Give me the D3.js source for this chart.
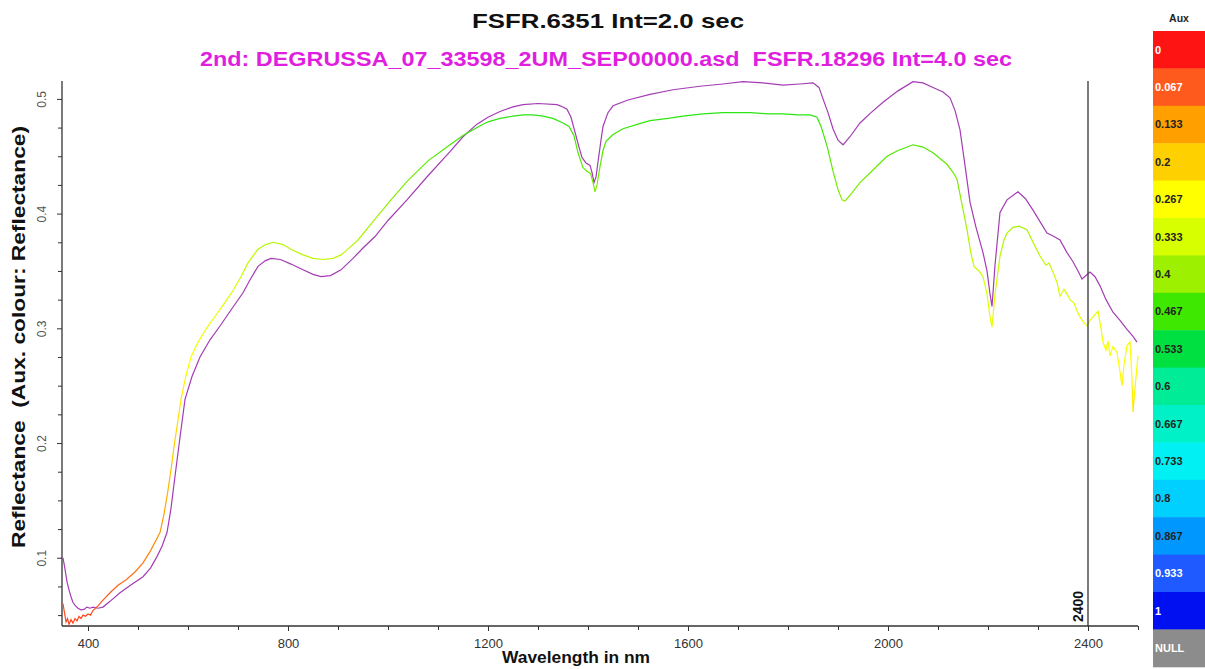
<!DOCTYPE html>
<html>
<head>
<meta charset="utf-8">
<script src="https://cdn.jsdelivr.net/npm/d3@7"></script>
<style>
  html, body { margin: 0; padding: 0; background: #fff; }
  svg { display: block; font-family: "Liberation Sans", Arial, sans-serif; }
  .keep-space { white-space: pre; }
</style>
</head>
<body>
<svg id="chart" width="1205" height="669"></svg>
<script>
// Spectrum 1 (FSFR.6351), coloured by its own reflectance
const wavelengthA = [350,353,356,359,362,366,370,374,378,382,386,390,395,400,405,410,420,430,444,460,477,495,510,525,544,552,560,567,573,580,586,596,606,620,640,660,673,690,706,720,740,755,770,790,806,830,850,870,890,906,920,940,970,1006,1040,1080,1124,1150,1178,1200,1224,1250,1270,1290,1310,1330,1350,1362,1372,1380,1390,1398,1405,1410,1414,1418,1424,1430,1436,1450,1470,1500,1524,1560,1590,1630,1670,1700,1724,1760,1790,1820,1844,1858,1866,1878,1890,1900,1908,1914,1924,1944,1970,1998,2020,2050,2070,2090,2104,2118,2130,2138,2148,2158,2166,2172,2182,2190,2198,2204,2208,2214,2224,2232,2238,2250,2262,2278,2290,2304,2316,2322,2330,2338,2344,2352,2358,2364,2372,2378,2384,2390,2398,2404,2410,2420,2426,2430,2436,2440,2444,2450,2458,2464,2468,2472,2478,2484,2488,2490,2494,2500];
const reflectanceA = [0.060,0.052,0.044,0.047,0.042,0.046,0.043,0.047,0.045,0.049,0.047,0.050,0.049,0.051,0.050,0.054,0.058,0.063,0.0695,0.076,0.081,0.088,0.0956,0.106,0.122,0.138,0.159,0.180,0.200,0.220,0.238,0.259,0.275,0.288,0.302,0.314,0.322,0.333,0.345,0.357,0.369,0.373,0.375,0.373,0.369,0.364,0.361,0.360,0.361,0.364,0.369,0.377,0.393,0.412,0.429,0.446,0.460,0.468,0.475,0.480,0.483,0.485,0.486,0.486,0.485,0.483,0.479,0.476,0.468,0.453,0.440,0.437,0.435,0.427,0.419,0.425,0.441,0.455,0.463,0.469,0.474,0.478,0.481,0.483,0.485,0.487,0.488,0.488,0.488,0.487,0.487,0.486,0.486,0.484,0.476,0.459,0.437,0.421,0.412,0.411,0.416,0.427,0.438,0.450,0.455,0.460,0.458,0.453,0.448,0.443,0.436,0.430,0.408,0.386,0.365,0.354,0.350,0.345,0.330,0.310,0.301,0.330,0.363,0.377,0.383,0.388,0.389,0.386,0.375,0.363,0.355,0.357,0.349,0.340,0.328,0.334,0.330,0.325,0.322,0.315,0.310,0.306,0.302,0.307,0.310,0.315,0.300,0.288,0.281,0.289,0.276,0.284,0.279,0.262,0.250,0.268,0.285,0.288,0.255,0.227,0.248,0.276];

// Spectrum 2 (DEGRUSSA_07_33598_2UM_SEP00000.asd, FSFR.18296)
const wavelengthB = [350,354,358,362,366,370,375,380,386,392,398,404,410,420,430,444,464,485,510,525,538,548,558,566,574,584,594,608,624,644,664,686,710,725,740,755,766,785,806,830,850,866,885,906,930,950,974,1000,1038,1080,1124,1150,1178,1200,1224,1250,1270,1300,1338,1350,1358,1366,1374,1382,1388,1396,1404,1408,1412,1416,1420,1426,1430,1440,1450,1480,1524,1570,1624,1670,1710,1750,1790,1824,1850,1862,1870,1880,1890,1900,1910,1924,1944,1966,1990,2020,2050,2070,2090,2110,2124,2134,2144,2154,2164,2176,2190,2198,2204,2208,2214,2224,2238,2260,2275,2290,2304,2318,2332,2344,2358,2370,2380,2388,2396,2404,2414,2424,2436,2450,2464,2478,2490,2498];
const reflectanceB = [0.100,0.090,0.079,0.072,0.066,0.061,0.058,0.056,0.0546,0.055,0.057,0.056,0.057,0.056,0.057,0.062,0.0695,0.076,0.0835,0.091,0.101,0.110,0.122,0.143,0.171,0.205,0.238,0.258,0.275,0.290,0.302,0.316,0.331,0.343,0.354,0.359,0.361,0.360,0.356,0.351,0.347,0.345,0.346,0.351,0.361,0.370,0.380,0.394,0.412,0.433,0.454,0.467,0.478,0.484,0.489,0.493,0.495,0.496,0.495,0.493,0.491,0.484,0.471,0.458,0.449,0.444,0.442,0.436,0.427,0.432,0.445,0.464,0.476,0.488,0.494,0.499,0.504,0.508,0.511,0.513,0.515,0.514,0.512,0.513,0.514,0.510,0.500,0.488,0.474,0.464,0.460,0.467,0.479,0.488,0.497,0.507,0.515,0.514,0.510,0.506,0.501,0.490,0.473,0.442,0.410,0.388,0.366,0.350,0.330,0.319,0.355,0.401,0.412,0.419,0.413,0.403,0.393,0.383,0.380,0.377,0.366,0.358,0.350,0.343,0.346,0.349,0.345,0.337,0.325,0.314,0.307,0.299,0.293,0.288];

// Aux colour key
const auxLabels = ["0","0.067","0.133","0.2","0.267","0.333","0.4","0.467","0.533","0.6","0.667","0.733","0.8","0.867","0.933","1"];
const auxValues = [0,0.067,0.133,0.2,0.267,0.333,0.4,0.467,0.533,0.6,0.667,0.733,0.8,0.867,0.933,1];
const auxColors = ["#ff1414","#ff5a1e","#ffa000","#ffd000","#ffff00","#d8ff00","#9cf000","#3ee800","#00e040","#00ec96","#00f0c8","#00f0f4","#00d0ff","#0098ff","#1e5aff","#0010f0"];
const auxTextColors = ["#fff","#fff","#222","#222","#222","#222","#222","#222","#222","#222","#222","#222","#222","#222","#fff","#fff"];
const nullLabel = "NULL";
const nullColor = "#8c8c8c";

const xTickValues = [400, 800, 1200, 1600, 2000, 2400];
const yTickValues = [0.1, 0.2, 0.3, 0.4, 0.5];
const markerWavelength = 2400;

const titleMain = "FSFR.6351 Int=2.0 sec";
const titleSecond = "2nd: DEGRUSSA_07_33598_2UM_SEP00000.asd  FSFR.18296 Int=4.0 sec";
const xLabel = "Wavelength in nm";
const yLabel = "Reflectance  (Aux. colour: Reflectance)";

const svg = d3.select("#chart");
const plot = { left: 62, right: 1138, top: 81, bottom: 626 };

const x = d3.scaleLinear().domain([350, 2500]).range([plot.left + 1, plot.right]);
const y = d3.scaleLinear().domain([0.0405, 0.5156]).range([plot.bottom, plot.top]);

// Titles
svg.append("text").attr("class", "keep-space").attr("x", 608).attr("y", 28).attr("text-anchor", "middle")
  .attr("font-size", 21).attr("font-weight", "bold").attr("fill", "#111")
  .attr("textLength", 272).attr("lengthAdjust", "spacingAndGlyphs").text(titleMain);
svg.append("text").attr("class", "keep-space").attr("x", 606).attr("y", 66).attr("text-anchor", "middle")
  .attr("font-size", 21).attr("font-weight", "bold").attr("fill", "#e01ee0")
  .attr("textLength", 812).attr("lengthAdjust", "spacingAndGlyphs").text(titleSecond);

// Gradient: curve colour follows reflectance, so a vertical gradient in user space maps value to colour
const defs = svg.append("defs");
const grad = defs.append("linearGradient").attr("id", "auxGrad")
  .attr("gradientUnits", "userSpaceOnUse")
  .attr("x1", 0).attr("x2", 0).attr("y1", y(0)).attr("y2", y(1));
auxValues.forEach((v, i) => grad.append("stop").attr("offset", v).attr("stop-color", auxColors[i]));

defs.append("clipPath").attr("id", "plotClip").append("rect")
  .attr("x", plot.left).attr("y", plot.top - 2).attr("width", plot.right - plot.left + 2).attr("height", plot.bottom - plot.top + 2);

// Axes
const xAxis = d3.axisBottom(x).tickValues(xTickValues).tickSize(5).tickFormat(d3.format("d"));
const xMinor = d3.axisBottom(x).tickValues(d3.range(500, 2501, 100).filter(v => v % 400 !== 0)).tickSize(4).tickFormat("");
const gx = svg.append("g").attr("transform", `translate(0,${plot.bottom})`).call(xAxis);
svg.append("g").attr("transform", `translate(0,${plot.bottom})`).call(xMinor).select(".domain").remove();
gx.select(".domain").attr("d", `M${plot.left},0H${plot.right}`).attr("stroke", "#333").attr("stroke-width", 1.3);
gx.selectAll(".tick text").attr("font-size", 13).attr("fill", "#333").attr("dy", "1.05em")
  .attr("font-family", "Liberation Sans, Arial, sans-serif");

const yAxis = d3.axisLeft(y).tickValues(yTickValues).tickSize(5).tickFormat(d3.format(".1f"));
const yMinor = d3.axisLeft(y).tickValues(d3.range(0.05, 0.51, 0.025).filter(v => Math.abs(v * 10 - Math.round(v * 10)) > 0.01)).tickSize(4).tickFormat("");
const gy = svg.append("g").attr("transform", `translate(${plot.left},0)`).call(yAxis);
svg.append("g").attr("transform", `translate(${plot.left},0)`).call(yMinor).select(".domain").remove();
gy.select(".domain").attr("d", `M0,${plot.top}V${plot.bottom}`).attr("stroke", "#333").attr("stroke-width", 1.3);
gy.selectAll(".tick text").attr("font-size", 12).attr("fill", "#555")
  .attr("font-family", "Liberation Sans, Arial, sans-serif")
  .attr("x", null).attr("dy", null)
  .attr("transform", "translate(-19,0) rotate(-90)")
  .attr("text-anchor", "middle").attr("dominant-baseline", "middle");
svg.selectAll(".tick line").attr("stroke", "#333");

// Axis titles
svg.append("text").attr("x", 576).attr("y", 663).attr("text-anchor", "middle")
  .attr("font-size", 16).attr("font-weight", "bold").attr("fill", "#111")
  .attr("textLength", 148).attr("lengthAdjust", "spacingAndGlyphs").text(xLabel);
svg.append("text").attr("class", "keep-space").attr("transform", "translate(25,337) rotate(-90)").attr("text-anchor", "middle")
  .attr("font-size", 18).attr("font-weight", "bold").attr("fill", "#111")
  .attr("textLength", 422).attr("lengthAdjust", "spacingAndGlyphs").text(yLabel);

// Spectra
const curves = svg.append("g").attr("clip-path", "url(#plotClip)");
const lineGen = d3.line().x(d => x(d[0])).y(d => y(d[1]));
curves.append("path").datum(d3.zip(wavelengthB, reflectanceB))
  .attr("d", lineGen).attr("fill", "none").attr("stroke", "#a43cb4").attr("stroke-width", 1.2);
curves.append("path").datum(d3.zip(wavelengthA, reflectanceA))
  .attr("d", lineGen).attr("fill", "none").attr("stroke", "url(#auxGrad)").attr("stroke-width", 1.2);

// Wavelength marker
svg.append("line").attr("x1", x(markerWavelength)).attr("x2", x(markerWavelength))
  .attr("y1", plot.top).attr("y2", plot.bottom).attr("stroke", "#333").attr("stroke-width", 1.3);
svg.append("text").attr("transform", `translate(${x(markerWavelength) - 5},${plot.bottom - 4}) rotate(-90)`)
  .attr("font-size", 14).attr("font-weight", "bold").attr("fill", "#111").text(String(markerWavelength));

// Colour key
const keyX = 1153, keyTop = 31, cellH = 37.4, keyW = 52;
svg.append("text").attr("x", keyX + keyW / 2).attr("y", 22).attr("text-anchor", "middle")
  .attr("font-size", 10.5).attr("font-weight", "bold").attr("fill", "#222").text("Aux");
const keyCells = auxLabels.map((l, i) => ({ label: l, color: auxColors[i], text: auxTextColors[i] }))
  .concat([{ label: nullLabel, color: nullColor, text: "#fff" }]);
const cells = svg.append("g").selectAll("g").data(keyCells).join("g")
  .attr("transform", (d, i) => `translate(${keyX},${keyTop + i * cellH})`);
cells.append("rect").attr("width", keyW).attr("height", cellH + 0.5).attr("fill", d => d.color);
cells.append("text").attr("x", 2).attr("y", cellH / 2 + 4)
  .attr("font-size", 11).attr("font-weight", "bold").attr("fill", d => d.text).text(d => d.label);
</script>
</body>
</html>
